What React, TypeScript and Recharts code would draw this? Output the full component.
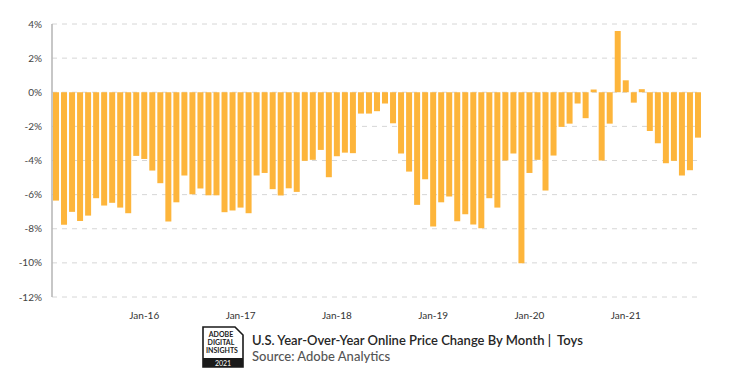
import { BarChart, Bar, XAxis, YAxis, CartesianGrid } from 'recharts'

const months = [
  'Feb-15', 'Mar-15', 'Apr-15', 'May-15', 'Jun-15', 'Jul-15', 'Aug-15', 'Sep-15', 'Oct-15', 'Nov-15', 'Dec-15',
  'Jan-16', 'Feb-16', 'Mar-16', 'Apr-16', 'May-16', 'Jun-16', 'Jul-16', 'Aug-16', 'Sep-16', 'Oct-16', 'Nov-16', 'Dec-16',
  'Jan-17', 'Feb-17', 'Mar-17', 'Apr-17', 'May-17', 'Jun-17', 'Jul-17', 'Aug-17', 'Sep-17', 'Oct-17', 'Nov-17', 'Dec-17',
  'Jan-18', 'Feb-18', 'Mar-18', 'Apr-18', 'May-18', 'Jun-18', 'Jul-18', 'Aug-18', 'Sep-18', 'Oct-18', 'Nov-18', 'Dec-18',
  'Jan-19', 'Feb-19', 'Mar-19', 'Apr-19', 'May-19', 'Jun-19', 'Jul-19', 'Aug-19', 'Sep-19', 'Oct-19', 'Nov-19', 'Dec-19',
  'Jan-20', 'Feb-20', 'Mar-20', 'Apr-20', 'May-20', 'Jun-20', 'Jul-20', 'Aug-20', 'Sep-20', 'Oct-20', 'Nov-20', 'Dec-20',
  'Jan-21', 'Feb-21', 'Mar-21', 'Apr-21', 'May-21', 'Jun-21', 'Jul-21', 'Aug-21', 'Sep-21', 'Oct-21',
]

// YoY price change, %
const priceChange = [
  -6.35, -7.77, -7.01, -7.54, -7.23, -6.21, -6.64, -6.48, -6.76, -7.09, -3.73,
  -3.91, -4.59, -5.33, -7.58, -6.45, -4.88, -5.98, -5.64, -6.04, -6.04, -7.03, -6.93,
  -6.76, -7.09, -4.88, -4.73, -5.68, -6.05, -5.63, -5.84, -4.02, -3.96, -3.38, -4.98,
  -3.75, -3.54, -3.57, -1.25, -1.25, -1.11, -0.66, -1.82, -3.59, -4.65, -6.6, -5.1,
  -7.87, -6.45, -6.11, -7.56, -7.15, -7.75, -7.97, -6.21, -6.76, -4.0, -3.59, -10.02,
  -4.73, -3.96, -5.76, -3.71, -2.03, -1.84, -0.66, -1.52, 0.16, -4.0, -1.84, 3.59,
  0.7, -0.61, 0.18, -2.27, -2.99, -4.16, -4.02, -4.88, -4.57, -2.66,
]

const yTicks = [-12, -10, -8, -6, -4, -2, 0, 2, 4]
const xTickLabels = ['Jan-16', 'Jan-17', 'Jan-18', 'Jan-19', 'Jan-20', 'Jan-21']

const data = months.map((m, i) => ({ month: m, value: priceChange[i] }))

function Logo() {
  return (
    <svg width={42} height={42} viewBox="0 0 42 42">
      <path d="M1 1 H33 L41 9 V41 H1 Z" fill="#fff" stroke="#1a1a1a" strokeWidth={1.6} />
      <text x={19} y={11} fontSize={7} fontWeight={700} textAnchor="middle" fill="#1a1a1a">ADOBE</text>
      <text x={19} y={19} fontSize={7} fontWeight={700} textAnchor="middle" fill="#1a1a1a">DIGITAL</text>
      <text x={20} y={27} fontSize={7} fontWeight={700} textAnchor="middle" fill="#1a1a1a">INSIGHTS</text>
      <rect x={1} y={32} width={40} height={9} fill="#1a1a1a" />
      <text x={21} y={39.5} fontSize={7} textAnchor="middle" fill="#fff">2021</text>
    </svg>
  )
}

export default function App() {
  return (
    <div
      style={{
        position: 'absolute',
        top: 0,
        left: 0,
        width: 750,
        height: 375,
        background: '#fff',
        fontFamily: 'Lato, "Open Sans", sans-serif',
      }}
    >
      <BarChart
        width={750}
        height={340}
        data={data}
        margin={{ top: 24, right: 48, left: 0, bottom: 0 }}
        barCategoryGap={1}
      >
        <CartesianGrid vertical={false} stroke="#d6d6d6" strokeDasharray="5 5" />
        <XAxis
          dataKey="month"
          interval={0}
          axisLine={false}
          tickLine={false}
          height={43}
          tickMargin={9}
          tickFormatter={(v: string) => (xTickLabels.includes(v) ? v : '')}
          tick={{ fontSize: 10, fill: '#333' }}
        />
        <YAxis
          domain={[-12, 4]}
          ticks={yTicks}
          width={52}
          axisLine={{ stroke: '#b5b5b5', strokeWidth: 1.5 }}
          tickLine={false}
          tickMargin={4}
          tickFormatter={(v: number) => `${v}%`}
          tick={{ fontSize: 10, fill: '#444' }}
        />
        <Bar dataKey="value" fill="#FDB53B" barSize={6} isAnimationActive={false} />
      </BarChart>
      <div style={{ position: 'absolute', left: 202, top: 326 }}>
        <Logo />
      </div>
      <div
        style={{
          position: 'absolute',
          left: 252,
          top: 332,
          fontSize: 13,
          fontWeight: 600,
          color: '#262626',
          whiteSpace: 'pre',
          lineHeight: '17px',
        }}
      >
        {'U.S. Year-Over-Year Online Price Change By Month |  Toys'}
      </div>
      <div
        style={{
          position: 'absolute',
          left: 252,
          top: 348,
          fontSize: 13,
          fontWeight: 500,
          color: '#555',
          lineHeight: '17px',
        }}
      >
        Source: Adobe Analytics
      </div>
    </div>
  )
}
